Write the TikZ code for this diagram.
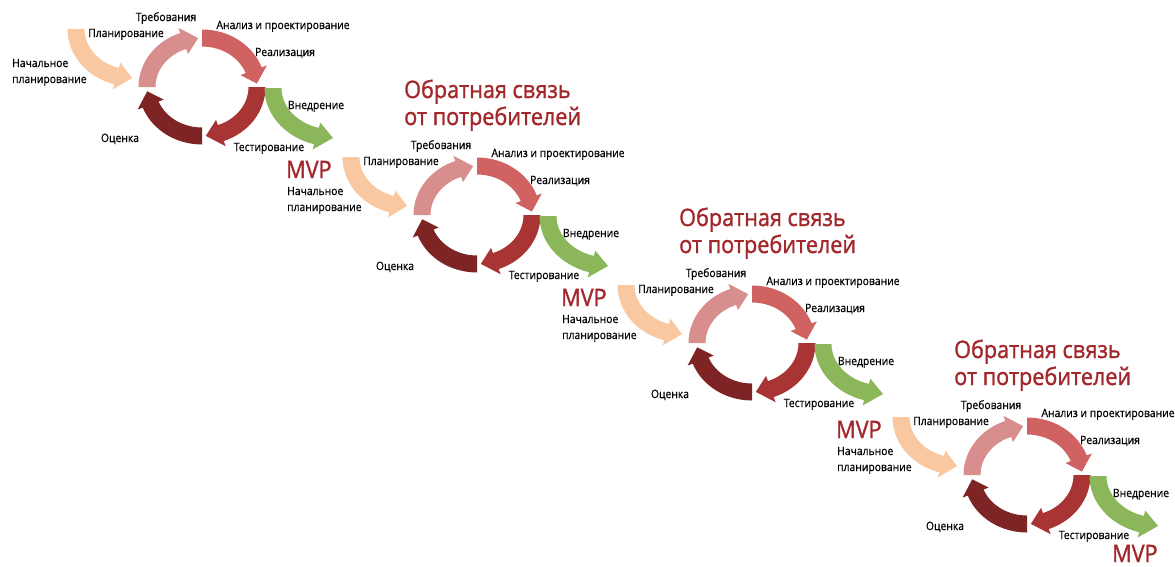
\documentclass[tikz,border=0pt]{standalone}
\usepackage{fontspec}
\setmainfont{Open Sans}[FakeStretch=0.9]
\newfontfamily\lblfont{Open Sans}[FakeStretch=0.9, FakeBold=0.6]
\newfontfamily\ttlfont{Open Sans}[FakeStretch=0.9, FakeBold=1.3]
\definecolor{peachc}{HTML}{F9C8A0}
\definecolor{pinkc}{HTML}{D98E8E}
\definecolor{redc}{HTML}{D06262}
\definecolor{darkredc}{HTML}{A83434}
\definecolor{darkestc}{HTML}{7E2424}
\definecolor{greenc}{HTML}{8CB65A}
\definecolor{titlered}{HTML}{A3282C}
\tikzset{
  lbl/.style={font=\lblfont\fontsize{11.5}{13}\selectfont, inner sep=0pt, text=black, anchor=base},
  lblw/.style={lbl, anchor=base west},
  bigred/.style={font=\ttlfont\fontsize{24}{28}\selectfont, inner sep=0pt, text=titlered, anchor=base west},
}
% #1 center, #2 rx, #3 ry, #4 start angle, #5 tip angle, #6 colour
\newcommand\cycarrow[6]{%
  \begin{scope}[shift={#1}]
    \pgfmathsetmacro\hb{#5-16*sign(#5-#4)}
    \pgfmathsetmacro\rxo{#2+8.5}\pgfmathsetmacro\ryo{#3+8.5}
    \pgfmathsetmacro\rxi{#2-8.5}\pgfmathsetmacro\ryi{#3-8.5}
    \pgfmathsetmacro\rxh{#2+14}\pgfmathsetmacro\ryh{#3+14}
    \pgfmathsetmacro\rxl{#2-14}\pgfmathsetmacro\ryl{#3-14}
    \fill[#6] (#4:\rxo\space and \ryo) arc[start angle=#4, end angle=\hb, x radius=\rxo, y radius=\ryo]
      -- (\hb:\rxh\space and \ryh) -- (#5:#2 and #3) -- (\hb:\rxl\space and \ryl)
      -- (\hb:\rxi\space and \ryi) arc[start angle=\hb, end angle=#4, x radius=\rxi, y radius=\ryi] -- cycle;
  \end{scope}}
% #1 x offset, #2 y offset, #3 id
\newcommand\onecycle[3]{%
  \begin{scope}[shift={(#1,#2)}]
    \cycarrow{(132,29)}{56}{49}{180}{90}{peachc}
    \cycarrow{(202,87)}{55}{49}{180}{266}{pinkc}
    \cycarrow{(202,87)}{55}{49}{270}{356}{redc}
    \cycarrow{(202,87)}{55}{49}{0}{86}{darkredc}
    \cycarrow{(202,87)}{55}{49}{90}{175}{darkestc}
    \cycarrow{(333,88)}{60}{50}{180}{90}{greenc}
    \node[lblw] (inita#3) at (12,67) {Начальное};
    \node[lblw] (initb#3) at (12,83) {планирование};
    \node[lbl] (plan#3) at (126,37) {Планирование};
    \node[lbl] (req#3) at (166,21) {Требования};
    \node[lbl] (anal#3) at (283,29) {Анализ и проектирование};
    \node[lbl] (impl#3) at (285,56) {Реализация};
    \node[lbl] (depl#3) at (316,109) {Внедрение};
    \node[lbl] (eval#3) at (120,142) {Оценка};
    \node[lbl] (test#3) at (269,151) {Тестирование};
  \end{scope}}
\newcommand\feedback[3]{%
  \begin{scope}[shift={(#1,#2)}]
    \node[bigred] (mvp#3) at (11,50) {MVP};
    \node[bigred] (fba#3) at (129,-30) {Обратная связь};
    \node[bigred] (fbb#3) at (129,-3) {от потребителей};
  \end{scope}}
\begin{document}
\begin{tikzpicture}[x=1pt, y=-1pt]
  \fill[white] (0,0) rectangle (1175,566);
  \useasboundingbox (0,0) rectangle (1175,566);
  \onecycle{0}{0}{1}
  \onecycle{275}{128}{2}
  \onecycle{550}{256}{3}
  \onecycle{825}{388}{4}
  \feedback{275}{128}{2}
  \feedback{550}{256}{3}
  \feedback{825}{388}{4}
  \node[bigred] (mvp5) at (1112,562) {MVP};
\end{tikzpicture}
\end{document}
